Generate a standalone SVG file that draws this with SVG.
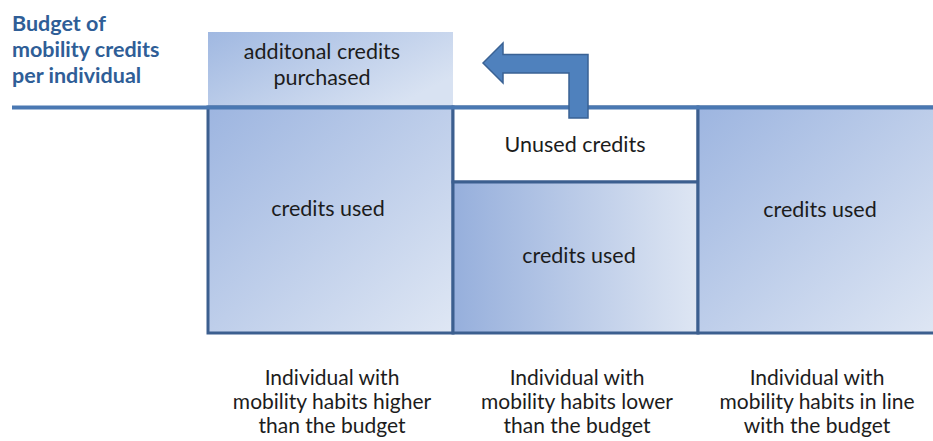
<svg xmlns="http://www.w3.org/2000/svg" width="933" height="441" viewBox="0 0 933 441">
  <defs>
    <linearGradient id="gDiag" x1="0" y1="0" x2="1" y2="1">
      <stop offset="0" stop-color="#9db5e0"/>
      <stop offset="1" stop-color="#dfe7f4"/>
    </linearGradient>
    <linearGradient id="gHoriz" x1="0" y1="0" x2="1" y2="0">
      <stop offset="0" stop-color="#96afdc"/>
      <stop offset="1" stop-color="#dee6f3"/>
    </linearGradient>
    <linearGradient id="gTop" x1="0" y1="0" x2="1" y2="0.6">
      <stop offset="0" stop-color="#a0b8e1"/>
      <stop offset="1" stop-color="#d8e2f2"/>
    </linearGradient>
    <filter id="soft" x="-5%" y="-100%" width="110%" height="300%">
      <feGaussianBlur stdDeviation="1.5"/>
    </filter>
  </defs>
  <style>
    .txt { font-family: Lato, "Open Sans", "Liberation Sans", sans-serif; fill: #1c1c1c; text-anchor: middle; }
    .box { font-size: 21.5px; }
    .cap { font-size: 21px; }
    .title { font-family: Lato, "Open Sans", "Liberation Sans", sans-serif; font-weight: bold; font-size: 21.5px; fill: #2f5e97; }
    .frame { fill: none; stroke: #3c5f8f; stroke-width: 3; }
  </style>

  <rect width="933" height="441" fill="#ffffff"/>

  <!-- axis label -->
  <g id="budget-label">
    <text class="title" x="12" y="31">Budget of</text>
    <text class="title" x="12" y="57">mobility credits</text>
    <text class="title" x="12" y="83">per individual</text>
  </g>

  <!-- purchased top-up above the budget line -->
  <g id="additional-credits">
    <rect x="208" y="32" width="245" height="75" fill="url(#gTop)"/>
    <text class="txt box" x="322" y="59">additonal credits</text>
    <text class="txt box" x="322" y="85">purchased</text>
  </g>

  <!-- column 1: habits higher than budget -->
  <g id="col-higher">
    <rect x="208" y="107" width="245" height="226" fill="url(#gDiag)"/>
    <rect class="frame" x="208" y="107" width="245" height="226"/>
    <text class="txt box" x="328" y="216">credits used</text>
  </g>

  <!-- column 2: habits lower than budget -->
  <g id="col-lower-unused">
    <rect x="453" y="107" width="245" height="75" fill="#ffffff"/>
    <rect class="frame" x="453" y="107" width="245" height="75"/>
    <text class="txt box" x="575" y="152">Unused credits</text>
  </g>
  <g id="col-lower-used">
    <rect x="453" y="182" width="245" height="151" fill="url(#gHoriz)"/>
    <rect class="frame" x="453" y="182" width="245" height="151"/>
    <text class="txt box" x="579" y="263">credits used</text>
  </g>

  <!-- column 3: habits in line with budget -->
  <g id="col-inline">
    <rect x="698" y="107" width="245" height="226" fill="url(#gDiag)"/>
    <rect class="frame" x="698" y="107" width="245" height="226"/>
    <text class="txt box" x="820" y="217">credits used</text>
  </g>

  <!-- budget line with a soft shadow -->
  <g id="budget-line">
    <line x1="12" y1="110.5" x2="933" y2="110.5" stroke="#9aa3ad" stroke-width="3" opacity="0.6" filter="url(#soft)"/>
    <line x1="12" y1="107.5" x2="933" y2="107.5" stroke="#4a78b2" stroke-width="4"/>
  </g>

  <!-- transfer of unused credits -->
  <g id="connectors">
    <path d="M483,63 L503,43 L503,54.5 L588,54.5 L588,118 L569,118 L569,73 L503,73 L503,83 Z" fill="#4f81bd" stroke="#3a6294" stroke-width="1.5" stroke-linejoin="miter"/>
  </g>

  <!-- column captions -->
  <g id="caption-higher">
    <text class="txt cap" x="332" y="385">Individual with</text>
    <text class="txt cap" x="332" y="409">mobility habits higher</text>
    <text class="txt cap" x="332" y="433">than the budget</text>
  </g>
  <g id="caption-lower">
    <text class="txt cap" x="577" y="385">Individual with</text>
    <text class="txt cap" x="577" y="409">mobility habits lower</text>
    <text class="txt cap" x="577" y="433">than the budget</text>
  </g>
  <g id="caption-inline">
    <text class="txt cap" x="817" y="385">Individual with</text>
    <text class="txt cap" x="817" y="409">mobility habits in line</text>
    <text class="txt cap" x="817" y="433">with the budget</text>
  </g>
</svg>
